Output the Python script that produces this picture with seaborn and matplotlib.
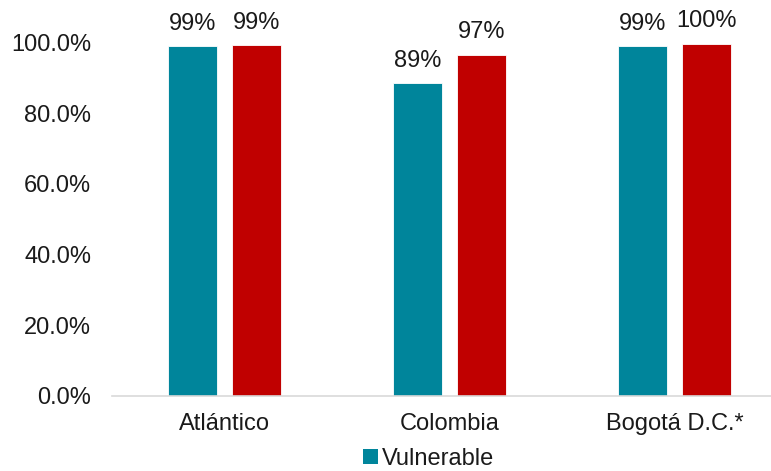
import matplotlib
matplotlib.use("Agg")
import matplotlib.pyplot as plt
import seaborn as sns
import pandas as pd
from matplotlib.patches import Patch

categories = ["Atlántico", "Colombia", "Bogotá D.C.*"]
series_names = ["Vulnerable", "No vulnerable"]
vulnerable = [0.990, 0.886, 0.990]
no_vulnerable = [0.993, 0.966, 0.997]
yticks = [0.0, 0.2, 0.4, 0.6, 0.8, 1.0]
ytick_labels = ["0.0%", "20.0%", "40.0%", "60.0%", "80.0%", "100.0%"]
colors = ["#00859B", "#C00000"]

df = pd.DataFrame({
    "cat": categories * 2,
    "serie": [series_names[0]] * 3 + [series_names[1]] * 3,
    "val": vulnerable + no_vulnerable,
})

sns.set_theme(style="white")
plt.rcParams["font.family"] = ["Liberation Sans", "DejaVu Sans"]

fig = plt.figure(figsize=(7.71, 4.71), dpi=100)
ax = fig.add_axes([112 / 771, 75 / 471, 675 / 771, 353.5 / 471])

sns.barplot(data=df, x="cat", y="val", hue="serie", hue_order=series_names,
            palette=colors, width=0.569, gap=0.22, ax=ax, legend=False,
            edgecolor="white", linewidth=0.6, saturation=1)

for cont in ax.containers:
    labs = [f"{b.get_height() * 100:.0f}%" for b in cont]
    ax.bar_label(cont, labels=labs, padding=8, fontsize=17, color="#1a1a1a")

ax.set_xlim(-0.5, 2.5)
ax.set_ylim(0, 1.0)
ax.set_yticks(yticks)
ax.set_yticklabels(ytick_labels)
ax.set_xlabel("")
ax.set_ylabel("")
ax.tick_params(axis="y", length=0, pad=15, labelsize=17, labelcolor="#1a1a1a")
ax.tick_params(axis="x", length=0, pad=12, labelsize=17, labelcolor="#1a1a1a")
for s in ["top", "right", "left"]:
    ax.spines[s].set_visible(False)
ax.spines["bottom"].set_color("#d9d9d9")
ax.spines["bottom"].set_linewidth(1.2)
ax.grid(False)
for t in ax.texts:
    t.set_clip_on(False)

handles = [Patch(facecolor=colors[0], edgecolor="none", label=series_names[0])]
fig.legend(handles=handles, loc="center", bbox_to_anchor=(429 / 771, 1 - 459 / 471),
           frameon=False, fontsize=17, handlelength=0.6, handleheight=0.6,
           handletextpad=0.2, labelcolor="#1a1a1a", borderaxespad=0)

fig.savefig("out.png", dpi=100)
